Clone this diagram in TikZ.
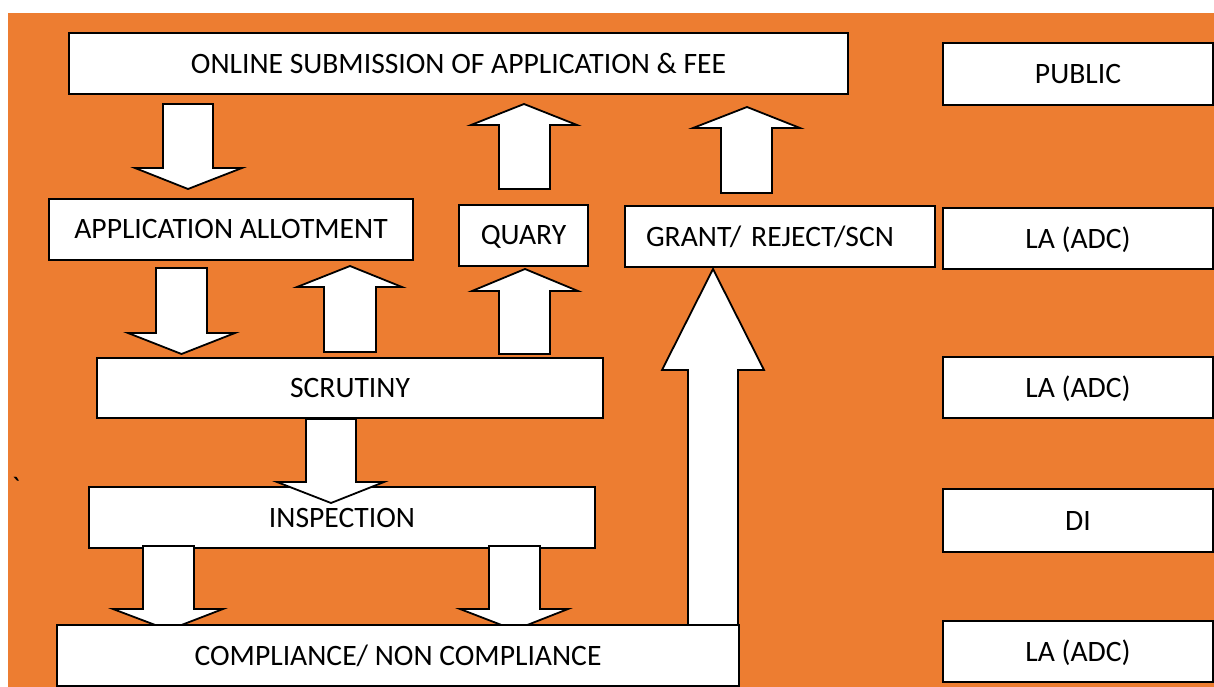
\documentclass[tikz,border=0pt]{standalone}
\usepackage{fontspec}
\setmainfont{Carlito}
\definecolor{bgorange}{RGB}{237,125,49}
\tikzset{
	box/.style = {draw, fill=white, line width=2pt, inner sep=0pt,
		minimum height=61pt, text height=19pt, text depth=0pt,
		font=\fontsize{29.6}{36}\selectfont},
	blockarrow/.style = {draw, fill=white, line width=1.8pt, line join=miter},
}
\begin{document}
\begin{tikzpicture}[x=1pt, y=-1pt]
	
	\useasboundingbox (0,0) rectangle (1214,687);
	\fill[bgorange] (8,13) rectangle (1214,687);
	
	\node [box, minimum width=779pt] (online) at (458.5,64){ONLINE SUBMISSION OF APPLICATION \& FEE};
	\node [box, minimum width=364pt] (allot) at (231,229){APPLICATION ALLOTMENT};
	\node [box, minimum width=129pt] (quary) at (523.5,235){QUARY};
	\node [box,
		   minimum width=310pt,
		   text width=268pt,
		   inner xsep=21pt,
		   align=left] (grant) at (780,236.5){GRANT/ REJECT/SCN};
	\node [box, minimum width=506pt, minimum height=60pt] (scrut) at (350,388){SCRUTINY};
	\node [box, minimum width=506pt] (insp) at (342,517.5){INSPECTION};
	
	\node [box, minimum width=270pt, minimum height=62pt] (public) at (1078,74){PUBLIC};
	\node [box, minimum width=270pt] (la1) at (1078,238.5){LA (ADC)};
	\node [box, minimum width=270pt] (la2) at (1078,387.5){LA (ADC)};
	\node [box, minimum width=270pt, minimum height=63pt] (di) at (1078,520.5){DI};
	\node [box, minimum width=270pt] (la3) at (1078,651.5){LA (ADC)};
	
	\node [font=\fontsize{29.6}{36}\selectfont, inner sep=0pt] (tick) at (16,487){\textasciigrave};
	
	% downward arrows
	\draw[blockarrow] (163,104) -- (213,104) -- (213,168) -- (242,168) -- (188,189) -- (135,168) -- (163,168) -- cycle;
	\draw[blockarrow] (156,268) -- (207,268) -- (207,333) -- (235,333) -- (181.5,354) -- (128,333) -- (156,333) -- cycle;
	\draw[blockarrow] (306,419) -- (356,419) -- (356,482) -- (384,482) -- (331,503) -- (277,482) -- (306,482) -- cycle;
	\draw[blockarrow] (143,546) -- (194,546) -- (194,609) -- (223,609) -- (168.5,630) -- (113,609) -- (143,609) -- cycle;
	\draw[blockarrow] (489,546) -- (540,546) -- (540,609) -- (568,609) -- (514.5,630) -- (460,609) -- (489,609) -- cycle;
	
	% upward arrows
	\draw[blockarrow] (499,189) -- (550,189) -- (550,125) -- (577,125) -- (524,104) -- (471,125) -- (499,125) -- cycle;
	\draw[blockarrow] (721,193) -- (772,193) -- (772,128) -- (800,128) -- (747,107) -- (693,128) -- (721,128) -- cycle;
	\draw[blockarrow] (324,352) -- (376,352) -- (376,287) -- (402,287) -- (350,266) -- (297,287) -- (324,287) -- cycle;
	\draw[blockarrow] (499,354) -- (550,354) -- (550,291) -- (578,291) -- (525,269) -- (472,291) -- (499,291) -- cycle;
	\draw[blockarrow] (688,626) -- (738,626) -- (738,370) -- (764,370) -- (713,269) -- (662,370) -- (688,370) -- cycle;
	
	\node [box, minimum width=682pt] (comp) at (398,655.5){COMPLIANCE/ NON COMPLIANCE};
	
\end{tikzpicture}
\end{document}
